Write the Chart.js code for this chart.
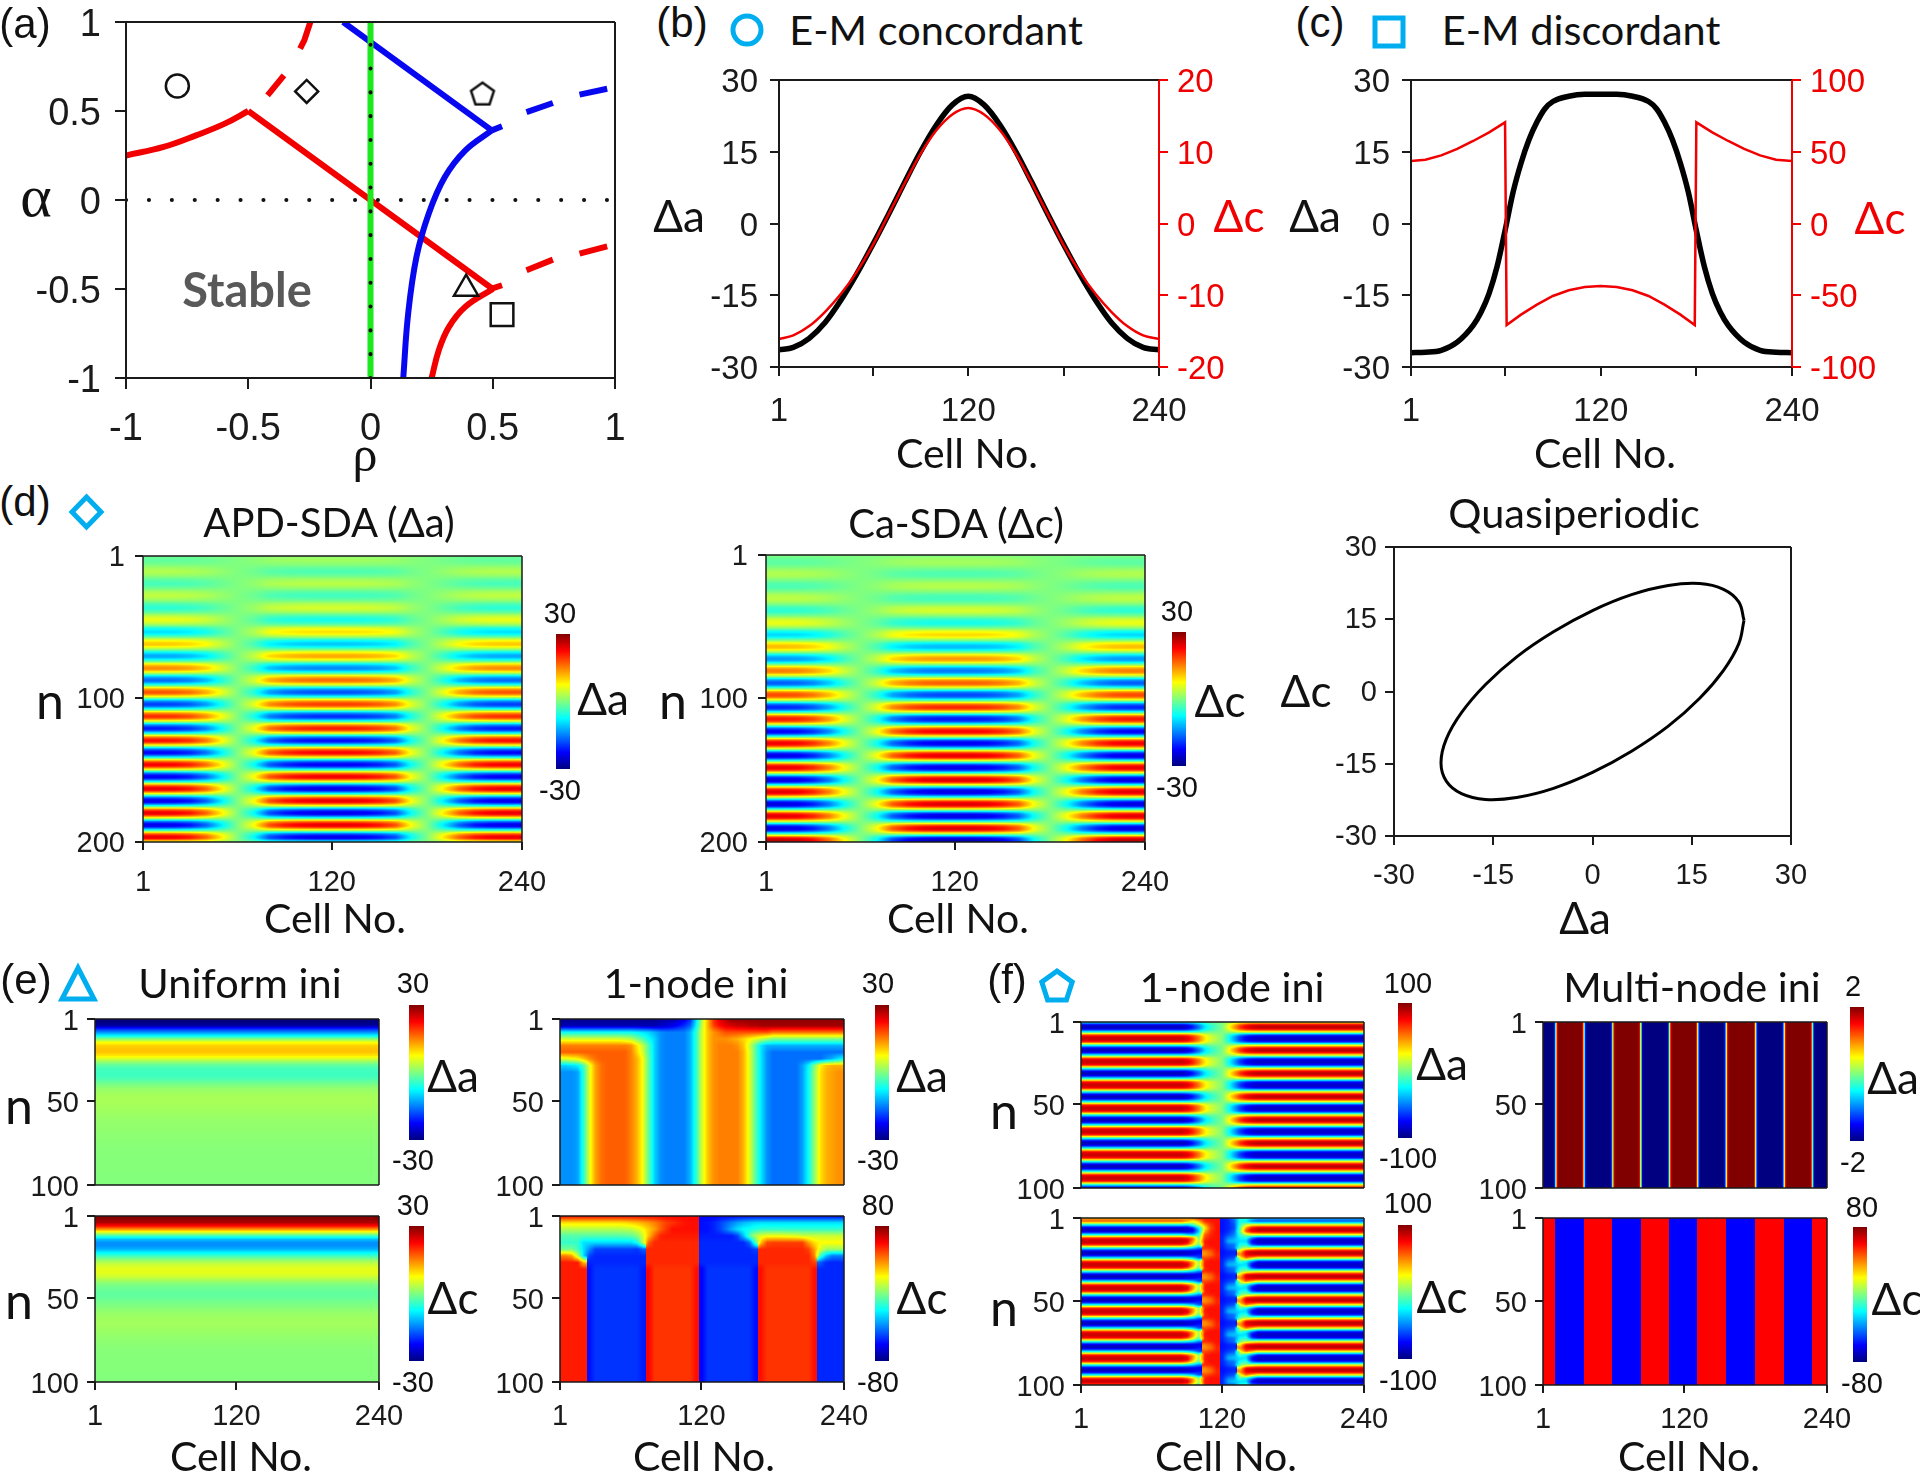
<!doctype html>
<html>
<head>
<meta charset="utf-8">
<title>Spatially discordant alternans</title>
<script src="https://cdn.jsdelivr.net/npm/chart.js@4"></script>
<style>
html, body { margin: 0; background: #fff; }
#fig { position: relative; width: 1920px; height: 1472px; overflow: hidden; }
#fig canvas { position: absolute; }
#fig svg { position: absolute; left: 0; top: 0; }
.t { position: absolute; transform: translate(-50%, -50%); white-space: nowrap; font-family: Lato; color: #111; line-height: 1; }
</style>
</head>
<body>
<div id="fig">
<svg width="1920" height="1472" fill="none" stroke="#00aeef" stroke-width="5">
  <circle cx="747" cy="30" r="14"/>
  <rect x="1375" y="18" width="28" height="28"/>
  <polygon points="86.5,497 101,512 86.5,527 72,512"/>
  <polygon points="78,968 94,999 62,999"/>
  <polygon points="1057,971 1072.2,982 1066.4,1000 1047.6,1000 1041.8,982"/>
</svg>
</div>
<script>
const rep = (v, k) => Array(k).fill(v);

// panel (a) boundaries, [rho, alpha]
const redLeft = [[-1, .25], [-.846, .298], [-.713, .363], [-.596, .429], [-.5, .5]];
const redDiag = [[-.5, .5], [.5, -.5]];
const redLower = [[.5, -.5], [.388, -.6], [.321, -.713], [.279, -.845], [.25, -1]];
const redDashes = [
  [[-.246, 1], [-.27, .9], [-.288, .85]],
  [[-.354, .7], [-.421, .588]],
  [[.496, -.498], [.538, -.479]],
  [[.638, -.395], [.746, -.335]],
  [[.855, -.301], [.968, -.26]],
];
const blueDiag = [[-.112, 1], [.496, .391]];
const blueLower = [[.496, .391], [.388, .279], [.304, .129], [.238, -.077], [.188, -.32], [.154, -.639], [.134, -1]];
const blueDashes = [
  [[.496, .391], [.538, .414]],
  [[.638, .494], [.746, .545]],
  [[.855, .592], [.968, .625]],
];
const greenLine = [[0, -1], [0, 1]];
const zeroLine = [[-1, 0], [1, 0]];
const markers = [[-.79, .64], [-.261, .61], [.458, .592], [.391, -.498], [.538, -.644]];

// panel (b)
const cellsB = [1, 10, 20, 30, 40, 50, 60, 70, 80, 90, 100, 110, 120, 130, 140, 150, 160, 170, 180, 190, 200, 210, 220, 230, 240];
const apdB = [-26.4, -25.9, -24, -20.7, -16, -10.5, -4.4, 2, 8.6, 15, 20.6, 24.8, 26.6, 24.8, 20.6, 15, 8.6, 2, -4.4, -10.5, -16, -20.7, -24, -25.9, -26.4];
const caB = [-16.1, -15.6, -14.3, -12.3, -9.8, -6.7, -3, 1.3, 5.6, 9.7, 13, 15.2, 16.1, 15.2, 13, 9.7, 5.6, 1.3, -3, -6.7, -9.8, -12.3, -14.3, -15.6, -16.1];

// panel (c)
const cellsC = [1, 10, 20, 30, 40, 45, 50, 55, 60, 65, 70, 75, 80, 85, 90, 100, 110, 120, 130, 140, 150, 155, 160, 165, 170, 175, 180, 185, 190, 195, 200, 210, 220, 230, 240];
const apdC = [-27, -26.9, -26.5, -24.8, -21.3, -18.5, -14.6, -9, -1.5, 6.5, 12.6, 17.5, 21.2, 24, 25.5, 26.6, 27, 27, 27, 26.6, 25.5, 24, 21.2, 17.5, 12.6, 6.5, -1.5, -9, -14.6, -18.5, -21.3, -24.8, -26.5, -26.9, -27];
const cellsCaC = [1, 10, 20, 30, 40, 50, 60, 61, 70, 80, 90, 100, 110, 120, 130, 140, 150, 160, 170, 179, 180, 190, 200, 210, 220, 230, 240];
const caC = [43.6, 44.5, 47.5, 52, 57.5, 63.5, 70.5, -70.7, -63.5, -56.5, -50.5, -46.5, -44.2, -43.6, -44.2, -46.5, -50.5, -56.5, -63.5, -70.7, 70.5, 63.5, 57.5, 52, 47.5, 44.5, 43.6];

// panel (d) heat maps: rows top to bottom, columns every 10 cells
const d1Rows = [
  -1, -1.8, -.6, 1.8, 2.9, .8, -2.2, -3.3, -.9, 2.5, 3.6, 1,
  -3.2, -4.9, -1.5, 4.1, 6.2, 1.9, -6.2, -9, -2.6, 7.1, 10.5, 3.1,
  -8.4, -12.4, -3.6, 9.8, 14.2, 4.2, -11.2, -15.9, -4.6, 12.2, 17.4, 4.9,
  -13.2, -18.6, -5.3, 13.9, 19.6, 5.5, -14.6, -20.6, -5.8, 15.3, 21.5, 6,
  -15.8, -22.1, -6.2, 16.1, 22.5, 6.3, -16.5, -22.9, -6.4, 16.8, 23.3, 6.5,
  -16.8, -23.3, -6.5, 16.8, 23.3, 6.5, -16.8, -23.3, -6.5, 16.8, 23.3, 6.5,
];
const d1Cols = [1, 1, .98, .9, .7, .35, 0, -.3, -.75, -.9, -.97, -1, -1, -1, -.97, -.9, -.75, -.3, 0, .35, .7, .9, .98, 1, 1];
const d2Rows = [
  .1, -1.5, -2, -.2, 2.2, 2.7, .4, -2.4, -2.9, -.3, 2.8, 3.4,
  .5, -3.8, -4.7, -.5, 4.8, 6.1, 1, -7.2, -9.2, -1, 9, 10.8,
  1.5, -10.4, -12.9, -1.5, 12.3, 14.4, 2, -13.6, -16.1, -1.8, 15.2, 17.1,
  2.4, -16.4, -19.3, -2.2, 18, 19.8, 2.8, -18.4, -21.6, -2.4, 19.7, 21.6,
  3, -19.6, -22.5, -2.5, 20.1, 22.1, 3, -20, -23, -2.5, 20.5, 22.5,
  3, -20, -23, -2.5, 20.5, 22.5, 3, -20, -23, -2.5, 22, 27,
];
const d2Cols = [1, 1, .97, .85, .62, .28, 0, -.28, -.7, -.88, -.97, -1, -1, -1, -.97, -.88, -.7, -.28, 0, .28, .62, .85, .97, 1, 1];

// panel (d) right, quasiperiodic loop [da, dc]
const loopPts = [
  [22.9, 14.8], [22.1, 9.9], [19.8, 4.4], [16.2, -1.4], [11.45, -7.2], [5.9, -12.4], [0, -16.8], [-5.9, -20.1],
  [-11.45, -22], [-16.2, -22.4], [-19.8, -21.2], [-22.1, -18.6], [-22.9, -14.8], [-22.1, -9.9], [-19.8, -4.4],
  [-16.2, 1.4], [-11.45, 7.2], [-5.9, 12.4], [0, 16.8], [5.9, 20.1], [11.45, 22], [16.2, 22.4], [19.8, 21.2],
  [22.1, 18.6], [22.9, 14.8],
];

// panel (e) uniform ini, every 2nd beat
const e1Rows = [-30, -30, -28, -20, -14, -8, 0, 7, 10, 11, 11, 9, 5, 1, -2, -3.5, -3.8, -3.8, -3, -1.5, 0, 1.2, 1.8, 2.2, 2.4, 2.4, 2.2, 2, 1.8, 1.6, 1.4, 1.2, 1.1, 1, .9, .8, .7, .6, .5, .5, .4, .4, .3, .3, .3, .3, .3, .2, .2, .2, .2];
const e3Rows = [30, 29, 27, 22, 14, 5, -4, -11, -14, -14, -12, -8, -4, 0, 3, 5, 6, 6, 5, 3, 1, -.5, -1.2, -1.8, -1.8, -1.3, -.6, 0, .6, 1.2, 1.6, 1.9, 2, 2, 1.7, 1.5, 1.2, 1, .8, .6, .5, .4, .4, .3, .3, .3, .3, .3, .2, .2, .2];

// panel (e) 1-node ini, every 4th beat, columns every 5 cells
const e2Steady = [-14, -14, -14, -13, -5, 6, 13, 16, 17, 17, 17, 17, 15, 12, 7, -2, -10, -14, -15, -15, -15, -15, -12, -5, 5, 11, 14, 15, 15, 15, 15, 12, 6, -2, -9, -14, -16, -16, -16, -16, -16, -13, -7, 1, 9, 12, 13, 14, 14];
const e2Top = [
  [...rep(-29, 17), -28, -28, -27, -26, -24, -20, -10, 3, 12, 20, 24, 27, ...rep(29, 20)],
  [...rep(-27, 17), -26, -25, -24, -22, -20, -17, -8, 4, 12, 19, 22, 24, 25, 26, 26, 27, 27, ...rep(28, 15)],
  [...rep(-7, 13), -8, -9, -10, -12, -14, -15, -15, -15, -15, -12, -5, 5, 11, 14, 16, ...rep(18, 8), ...rep(16, 13)],
  [...rep(5, 11), 4, 3, 0, -3, -7, -10, -14, -15, -15, -15, -15, -12, -5, 5, 11, 14, 14, 14, 13, 12, 10, 8, 6, 4, 2, ...rep(0, 13)],
  [...rep(15, 12), 14, 9, 4, -3, -10, -14, -15, -15, -15, -15, -12, -5, 5, 11, 14, 15, 15, 15, 14, 11, 5, -2, -9, -12, ...rep(-12, 13)],
  [...rep(17, 12), 15, 10, 5, -3, -10, -14, -15, -15, -15, -15, -12, -5, 5, 11, 14, 15, 15, 15, 15, 12, 6, -2, -9, -14, ...rep(-16, 13)],
  [5, 6, 7, 8, 11, 14, 16, 17, 17, 17, 17, 17, 15, 12, 7, -2, -10, -14, -15, -15, -15, -15, -12, -5, 5, 11, 14, 15, 15, 15, 15, 12, 6, -2, -9, -14, ...rep(-16, 9), -14, -12, -9, -7],
  [-10, -10, -9, -8, -3, 6, 13, 16, 17, 17, 17, 17, 15, 12, 7, -2, -10, -14, -15, -15, -15, -15, -12, -5, 5, 11, 14, 15, 15, 15, 15, 12, 6, -2, -9, -14, ...rep(-16, 5), -13, -8, 0, 8, 11, 12, 12, 12],
];
const e4Steady = [...rep(56, 5), -58, ...rep(-52, 8), -56, 60, ...rep(52, 7), 58, -60, ...rep(-52, 8), -58, 58, ...rep(52, 8), 58, ...rep(-54, 5)];
const e4Top = [
  [...rep(60, 24), ...rep(-60, 25)],
  [...rep(25, 11), 26, 28, 30, 33, 36, 40, 45, 50, 52, 55, 57, 58, 58, -58, -57, -55, -50, -45, -40, -35, -31, -28, -26, ...rep(-25, 15)],
  [...rep(8, 11), 9, 10, 14, 20, 28, 35, 45, 52, 58, 58, 58, 58, 58, -58, -58, -55, -50, -42, -33, -25, -20, -18, -15, ...rep(-12, 15)],
  [...rep(-7, 11), -6, -5, 0, 12, 30, 45, 55, ...rep(56, 6), ...rep(-56, 6), -50, -30, -8, 8, 15, 18, 18, 18, 17, 16, 15, ...rep(12, 8)],
  [...rep(-12, 4), ...rep(-25, 9), -18, 8, 45, ...rep(54, 8), ...rep(-54, 8), -45, -10, 30, 48, ...rep(50, 6), 35, 25, ...rep(20, 5)],
  [-2, -2, -2, -10, -25, -38, ...rep(-50, 7), -52, -45, ...rep(54, 9), ...rep(-54, 9), -50, ...rep(54, 8), 50, 35, 15, ...rep(5, 4)],
  [40, 40, 35, 10, -25, -50, ...rep(-54, 9), ...rep(54, 9), ...rep(-54, 10), ...rep(54, 9), 40, -10, -30, -40, -40, -40],
  [56, 56, 56, 56, 30, -55, ...rep(-54, 9), ...rep(54, 9), ...rep(-54, 10), ...rep(54, 9), 50, -45, ...rep(-54, 4)],
];

// panel (f) 1-node ini
const f1Rows = [-30, -80, -80, -20, 65, 85, 65,
  -20, -80, -80, -20, 65, 85, 65, -20, -80, -80, -20, 65, 85, 65, -20, -80, -80, -20, 65, 85, 65,
  -20, -80, -80, -20, 65, 85, 65, -20, -80, -80, -20, 65, 85, 65, -20, -80, -80, -20, 65, 85, 65,
  -20, -80];
const f1Cols = [...rep(1, 18), .95, .8, .6, .35, .2, .1, 0, -.25, -.5, -.75, -.9, -.97, ...rep(-1, 19)];
const f3Left = [40, 50, -20, -80, -80, -20, 65,
  85, 65, -20, -80, -80, -20, 65, 85, 65, -20, -80, -80, -20, 65, 85, 65, -20, -80, -80, -20, 65,
  85, 65, -20, -80, -80, -20, 65, 85, 65, -20, -80, -80, -20, 65, 85, 65, -20, -80, -80, -20, 65,
  85, 60];
const f3Right = [-40, -50, 20, 80, 80, 20, -65,
  -85, -65, 20, 80, 80, 20, -65, -85, -65, 20, 80, 80, 20, -65, -85, -65, 20, 80, 80, 20, -65,
  -85, -65, 20, 80, 80, 20, -65, -85, -65, 20, 80, 80, 20, -65, -85, -65, 20, 80, 80, 20, -65,
  -85, -60];
// junction columns 90..145 of the same beats
const f3MidTop = [
  [40, 55, 68, 70, 72, 72, -72, -65, -50, -20, -15, -30],
  [40, 25, 40, 65, 70, 72, -72, -68, -55, -20, -25, -45],
  [-25, -10, 15, 45, 65, 72, -72, -68, -58, -15, 10, 20],
  [-78, -65, -25, 30, 62, 72, -72, -68, -60, -8, 45, 72],
  [-78, -72, -35, 40, 65, 72, -72, -66, -55, -5, 55, 75],
  [-30, -35, -15, 55, 68, 72, -70, -60, -50, -15, 10, 20],
  [60, 45, 0, 62, 70, 72, -68, -50, -42, -25, -20, -50],
];
const f3MidBeat = [
  [80, 45, 5, 70, 72, 72, -68, -42, -38, -30, -30, -72],
  [55, 25, -10, 68, 72, 72, -68, -55, -50, -20, -15, -55],
  [-25, -35, -50, 65, 68, 72, -70, -60, -55, 0, 10, 15],
  [-78, -78, -78, 50, 58, 70, -72, -68, -66, 30, 72, 78],
  [-78, -75, -70, 48, 55, 68, -72, -68, -66, 45, 75, 80],
  [-25, -35, -55, 60, 65, 70, -70, -62, -58, 20, 50, 35],
  [55, 35, 0, 68, 72, 72, -68, -50, -45, -10, -20, -45],
];
const f3Mid = [...f3MidTop, ...f3MidBeat, ...f3MidBeat, ...f3MidBeat, ...f3MidBeat, ...f3MidBeat, ...f3MidBeat, f3MidBeat[0], f3MidBeat[1]];

// panel (f) multi-node ini, cells where the sign flips
const f2Edges = [11, 35, 59, 83, 107, 131, 155, 180, 204, 228];
const f2Ramp = [-1.2, .4, 1.6];

const fig = document.getElementById('fig');
const ink = '#1a1a1a';
const tickFont = 'Liberation Sans';

Chart.defaults.animation = false;
Chart.defaults.responsive = false;
Chart.defaults.devicePixelRatio = 1;
Chart.defaults.events = [];
Chart.defaults.plugins.legend.display = false;
Chart.defaults.plugins.tooltip.enabled = false;

const xy = pts => pts.map(([x, y]) => ({ x, y }));
const zipXY = (xs, ys) => xs.map((x, i) => ({ x, y: ys[i] }));

function place(box, m) {
  const c = document.createElement('canvas');
  const w = box[2] - box[0] + m.l + m.r, h = box[3] - box[1] + m.t + m.b;
  c.width = w; c.height = h;
  c.style.left = (box[0] - m.l) + 'px';
  c.style.top = (box[1] - m.t) + 'px';
  fig.appendChild(c);
  return c;
}

// holds the plot area on the exact box, whatever auto padding wants
const pin = m => ({
  id: 'pin',
  afterLayout(chart) {
    const a = chart.chartArea;
    a.left = m.l; a.top = m.t; a.right = chart.width - m.r; a.bottom = chart.height - m.b;
    a.width = a.right - a.left; a.height = a.bottom - a.top;
    Object.values(chart.scales).forEach(s => {
      if (s.isHorizontal()) {
        s.left = a.left; s.right = a.right; s.width = a.width; s.top = a.bottom; s.bottom = chart.height; s.height = m.b;
      } else {
        s.top = a.top; s.bottom = a.bottom; s.height = a.height;
        if (s.position === 'right') { s.left = a.right; s.right = chart.width; s.width = m.r; }
        else { s.left = 0; s.right = a.left; s.width = m.l; }
      }
      s.configure();
    });
  },
});

function axis(o) {
  return {
    type: 'linear', position: o.pos, min: o.min, max: o.max, reverse: !!o.reverse,
    afterBuildTicks: s => { s.ticks = o.ticks.map(v => ({ value: v })); },
    afterFit: s => { if (s.isHorizontal()) s.height = o.fit; else s.width = o.fit; },
    grid: { drawOnChartArea: false, drawTicks: true, tickLength: o.tick, color: o.color || ink, lineWidth: 2 },
    border: { display: false },
    ticks: {
      autoSkip: false, maxRotation: 0, minRotation: 0, padding: o.pad, color: o.color || ink, labelOffset: o.off || 0,
      font: { family: tickFont, size: o.size },
      callback: v => (o.labels || o.ticks).includes(v) ? String(v) : '',
    },
  };
}

// outline of the plot area, right side may take the axis colour
const frame = (right = ink, width = 2) => ({
  id: 'frame',
  afterDatasetsDraw(chart) {
    const { left, right: r, top, bottom } = chart.chartArea, ctx = chart.ctx;
    ctx.save();
    ctx.lineWidth = width;
    ctx.strokeStyle = ink;
    ctx.beginPath();
    ctx.moveTo(r, top); ctx.lineTo(left, top); ctx.lineTo(left, bottom); ctx.lineTo(r, bottom);
    ctx.stroke();
    ctx.strokeStyle = right;
    ctx.beginPath();
    ctx.moveTo(r, top); ctx.lineTo(r, bottom);
    ctx.stroke();
    ctx.restore();
  },
});

function jet(v, vmax) {
  const t = Math.min(1, Math.max(0, (v + vmax) / (2 * vmax)));
  const f = k => Math.round(255 * Math.min(1, Math.max(0, 1.5 - Math.abs(4 * t - k))));
  return [f(3), f(2), f(1)];
}

// paints the dataset's cells into the plot, placed by the chart's own scales
const heatCells = {
  id: 'heatCells',
  beforeDatasetsDraw(chart) {
    const ds = chart.data.datasets[0], pts = ds.data, nx = ds.nx, ny = pts.length / nx;
    const sx = chart.scales.x, sy = chart.scales.y, ctx = chart.ctx;
    const x0 = Math.round(sx.getPixelForValue(pts[0].x)), x1 = Math.round(sx.getPixelForValue(pts[nx - 1].x));
    const y0 = Math.round(sy.getPixelForValue(pts[0].y)), y1 = Math.round(sy.getPixelForValue(pts[pts.length - 1].y));
    const w = x1 - x0, h = y1 - y0, img = ctx.createImageData(w, h);
    const across = (a, b, f) => Math.abs(a - b) > ds.jump ? (f < .5 ? a : b) : a + (b - a) * f;
    const at = (r, c, fx) => {
      const row = Math.min(ny - 1, Math.max(0, r));
      return across(pts[row * nx + c].v, pts[row * nx + c + 1].v, fx);
    };
    for (let py = 0; py < h; py++) {
      const gy = (py + .5) / h * (ny - 1), r = Math.min(ny - 2, Math.floor(gy)), fy = gy - r;
      for (let px = 0; px < w; px++) {
        const gx = (px + .5) / w * (nx - 1), c = Math.min(nx - 2, Math.floor(gx)), fx = gx - c;
        const p1 = at(r, c, fx), p2 = at(r + 1, c, fx);
        let v = p1 + (p2 - p1) * fy;
        if (ds.smooth) {
          // rounder stripes between the read rows
          const p0 = at(r - 1, c, fx), p3 = at(r + 2, c, fx);
          v = p1 + .5 * fy * (p2 - p0 + fy * (2 * p0 - 5 * p1 + 4 * p2 - p3 + fy * (3 * (p1 - p2) + p3 - p0)));
        }
        const rgb = jet(v, ds.vmax), i = (py * w + px) * 4;
        img.data[i] = rgb[0]; img.data[i + 1] = rgb[1]; img.data[i + 2] = rgb[2]; img.data[i + 3] = 255;
      }
    }
    ctx.putImageData(img, x0, y0);
  },
};

function heat(box, grid, vmax, o = {}) {
  const nx = grid[0].length, ny = grid.length, yMax = o.yMax || 100;
  const data = [];
  grid.forEach((row, r) => row.forEach((v, c) => data.push({ x: 1 + c * 239 / (nx - 1), y: 1 + r * (yMax - 1) / (ny - 1), v })));
  const m = o.bar ? { l: 0, r: 0, t: 0, b: 0 } : { l: 110, r: 40, t: 22, b: o.xAxis ? 70 : 22 };
  const scales = {
    x: o.xAxis ? axis({ pos: 'bottom', min: 1, max: 240, ticks: [1, 120, 240], tick: 8, pad: o.xPad || 10, size: 29, fit: m.b })
      : { type: 'linear', min: 1, max: 240, display: false },
    y: o.bar ? { type: 'linear', min: 1, max: yMax, reverse: true, display: false }
      : axis({ pos: 'left', min: 1, max: yMax, reverse: true, ticks: [1, Math.round(yMax / 2), yMax], tick: 8, pad: o.yPad || 8, size: 29, fit: m.l, off: o.off === undefined ? 3 : o.off }),
  };
  new Chart(place(box, m), {
    type: 'scatter',
    data: { datasets: [{ data, nx, vmax, jump: o.jump || Infinity, smooth: !!o.smooth, pointRadius: 0, showLine: false }] },
    options: { layout: { padding: { top: m.t, right: m.r, bottom: o.xAxis ? 0 : m.b } }, scales },
    plugins: o.bar ? [pin(m), heatCells] : [pin(m), heatCells, frame(ink, 1.5)],
  });
}
const colorBar = (box, vmax) => heat(box, [[vmax, vmax], [-vmax, -vmax]], vmax, { bar: true });
const uniformRows = rows => rows.map(v => [v, v]);
const outer = (rows, cols) => rows.map(v => cols.map(k => v * k));

// ---- panel a
const penta = document.createElement('canvas');
penta.width = penta.height = 30;
{
  const p = penta.getContext('2d');
  p.strokeStyle = '#111'; p.lineWidth = 2.5; p.beginPath();
  for (let i = 0; i < 5; i++) {
    const t = -Math.PI / 2 + i * 2 * Math.PI / 5;
    p.lineTo(15 + 12 * Math.cos(t), 15 + 12 * Math.sin(t));
  }
  p.closePath(); p.stroke();
}
const seg = (pts, color, width) => ({ data: xy(pts), showLine: true, borderColor: color, borderWidth: width, pointRadius: 0, tension: 0, borderCapStyle: 'butt', borderJoinStyle: 'round' });
const mA = { l: 110, r: 30, t: 24, b: 70 };
new Chart(place([126, 22, 615, 378], mA), {
  type: 'scatter',
  data: {
    datasets: [
      { data: xy(markers), showLine: false, pointStyle: ['circle', 'rectRot', penta, 'triangle', 'rect'], pointRadius: [11.5, 11.5, 15, 14, 16], pointBackgroundColor: 'rgba(0,0,0,0)', pointBorderColor: '#111', pointBorderWidth: 2.5 },
      { ...seg(greenLine, '#111', 4), borderDash: [.1, 23.7], borderCapStyle: 'round' },
      { ...seg(zeroLine, '#111', 4), borderDash: [.1, 22.8], borderCapStyle: 'round' },
      seg(greenLine, '#1ee81e', 6),
      seg(blueDiag, '#0808f0', 6),
      { ...seg(blueLower, '#0808f0', 6), tension: .4 },
      ...blueDashes.map(d => seg(d, '#0808f0', 6)),
      seg(redDiag, '#f20000', 6),
      { ...seg(redLeft, '#f20000', 6), tension: .4 },
      { ...seg(redLower, '#f20000', 6), tension: .4 },
      ...redDashes.map(d => seg(d, '#f20000', 6)),
    ],
  },
  options: {
    layout: { padding: { top: mA.t, right: mA.r } },
    scales: {
      x: axis({ pos: 'bottom', min: -1, max: 1, ticks: [-1, -.5, 0, .5, 1], tick: 11, pad: 18, size: 38, fit: mA.b }),
      y: axis({ pos: 'left', min: -1, max: 1, ticks: [-1, -.5, 0, .5, 1], tick: 11, pad: 14, size: 38, fit: mA.l, off: 4 }),
    },
  },
  plugins: [pin(mA), frame()],
});

// ---- panels b, c
function profile(box, sets, rightMax, rightTicks, xTicks) {
  const m = { l: 110, r: 100, t: 22, b: 70 };
  new Chart(place(box, m), {
    type: 'scatter',
    data: { datasets: sets },
    options: {
      layout: { padding: { top: m.t } },
      scales: {
        x: axis({ pos: 'bottom', min: 1, max: 240, ticks: xTicks, labels: [1, 120, 240], tick: 9, pad: 16, size: 33, fit: m.b }),
        y: axis({ pos: 'left', min: -30, max: 30, ticks: [-30, -15, 0, 15, 30], tick: 9, pad: 12, size: 33, fit: m.l, off: 3 }),
        y1: axis({ pos: 'right', min: -rightMax, max: rightMax, ticks: rightTicks, tick: 9, pad: 9, size: 33, fit: m.r, color: '#f00000', off: 3 }),
      },
    },
    plugins: [pin(m), frame('#f00000')],
  });
}
profile([779, 80, 1159, 367], [
  { data: zipXY(cellsB, caB), yAxisID: 'y1', showLine: true, borderColor: '#f00000', borderWidth: 2.5, pointRadius: 0, cubicInterpolationMode: 'monotone' },
  { data: zipXY(cellsB, apdB), showLine: true, borderColor: '#000', borderWidth: 5.5, pointRadius: 0, cubicInterpolationMode: 'monotone' },
], 20, [-20, -10, 0, 10, 20], [1, 60, 120, 180, 240]);
profile([1411, 80, 1792, 367], [
  { data: zipXY(cellsCaC, caC), yAxisID: 'y1', showLine: true, borderColor: '#f00000', borderWidth: 2.5, pointRadius: 0, tension: 0 },
  { data: zipXY(cellsC, apdC), showLine: true, borderColor: '#000', borderWidth: 5.5, pointRadius: 0, cubicInterpolationMode: 'monotone' },
], 100, [-100, -50, 0, 50, 100], [1, 60, 120, 180, 240]);

// ---- panel d
heat([143, 556, 522, 842], outer(d1Rows, d1Cols), 30, { yMax: 200, xAxis: true, yPad: 10, xPad: 16, off: 2, smooth: true });
colorBar([556, 634, 570, 769], 30);
heat([766, 555, 1145, 842], outer(d2Rows, d2Cols), 30, { yMax: 200, xAxis: true, yPad: 10, xPad: 16, off: 2, smooth: true });
colorBar([1172, 632, 1186, 766], 30);

const mL = { l: 110, r: 40, t: 22, b: 70 };
new Chart(place([1394, 547, 1791, 836], mL), {
  type: 'scatter',
  data: { datasets: [{ data: xy(loopPts), showLine: true, borderColor: '#000', borderWidth: 3, pointRadius: 0, tension: .4 }] },
  options: {
    layout: { padding: { top: mL.t, right: mL.r } },
    scales: {
      x: axis({ pos: 'bottom', min: -30, max: 30, ticks: [-30, -15, 0, 15, 30], tick: 9, pad: 14, size: 29, fit: mL.b }),
      y: axis({ pos: 'left', min: -30, max: 30, ticks: [-30, -15, 0, 15, 30], tick: 9, pad: 8, size: 29, fit: mL.l, off: 1 }),
    },
  },
  plugins: [pin(mL), frame()],
});

// ---- panel e
const e2Grid = [...e2Top, ...rep(e2Steady, 18)];
const e4Grid = [...e4Top, ...rep(e4Steady, 18)];
heat([95, 1019, 379, 1185], uniformRows(e1Rows), 30);
colorBar([409, 1005, 424, 1140], 30);
heat([95, 1216, 379, 1382], uniformRows(e3Rows), 30, { xAxis: true });
colorBar([409, 1226, 424, 1361], 30);
heat([560, 1019, 844, 1185], e2Grid, 30);
colorBar([875, 1005, 889, 1140], 30);
heat([560, 1216, 844, 1382], e4Grid, 80, { xAxis: true, jump: 70 });
colorBar([875, 1226, 889, 1361], 80);

// ---- panel f
const f3Grid = f3Left.map((l, i) => [...rep(l, 18), ...f3Mid[i], ...rep(f3Right[i], 19)]);
const f2Band = c => f2Edges.filter(e => e <= c).length % 2;
const f2Steps = Array.from({ length: 241 }, (_, i) => i);
// multi-node ini: flat bands with a three cell wall at each edge
const f2Cols = f2Steps.map(c => {
  const s = f2Band(c) ? 2 : -2;
  const wall = f2Edges.findIndex(e => c >= e - 1 && c <= e + 1);
  if (wall < 0) return s;
  const e = f2Edges[wall], up = wall % 2 === 0 ? 1 : -1;
  return up * f2Ramp[c - e + 1];
});
const f4Cols = f2Steps.map(c => f2Band(c) ? -60 : 60);
heat([1081, 1022, 1364, 1188], outer(f1Rows, f1Cols), 100, { smooth: true });
colorBar([1398, 1003, 1412, 1138], 100);
heat([1081, 1218, 1364, 1385], f3Grid, 100, { xAxis: true, jump: 95, smooth: true });
colorBar([1398, 1225, 1412, 1359], 100);
heat([1543, 1022, 1827, 1188], [f2Cols, f2Cols], 2);
colorBar([1850, 1007, 1864, 1141], 2);
heat([1543, 1218, 1827, 1385], [f4Cols, f4Cols], 80, { xAxis: true, jump: 70 });
colorBar([1853, 1227, 1867, 1362], 80);

// ---- text
function txt(s, x, y, size, o = {}) {
  const d = document.createElement('div');
  d.className = 't';
  d.textContent = s;
  d.style.left = x + 'px';
  d.style.top = y + 'px';
  d.style.fontSize = size + 'px';
  if (o.family) d.style.fontFamily = o.family;
  if (o.color) d.style.color = o.color;
  if (o.weight) d.style.fontWeight = o.weight;
  fig.appendChild(d);
}
const red = { color: '#f00000' };
const tickTxt = { family: tickFont };

[['(a)', 25, 24], ['(b)', 682, 23], ['(c)', 1320, 23], ['(d)', 25, 502], ['(e)', 26, 980], ['(f)', 1007, 980]]
  .forEach(([s, x, y]) => txt(s, x, y, 42, tickTxt));

txt('α', 36, 196, 60, { family: 'Liberation Serif' });
txt('ρ', 365, 454, 50, { family: 'Liberation Serif' });
txt('Stable', 247, 289, 47, { weight: 700, color: '#595959' });

const titles = [['E-M concordant', 936, 30, 41.5], ['E-M discordant', 1581, 30, 41.5], ['APD-SDA (Δa)', 329, 522, 40], ['Ca-SDA (Δc)', 956, 523, 40],
  ['Quasiperiodic', 1574, 513, 41.5], ['Uniform ini', 240, 983, 41.5], ['1-node ini', 696, 983, 41.5], ['1-node ini', 1232, 987, 41.5], ['Multi-node ini', 1692, 987, 41.5]];
titles.forEach(([s, x, y, size]) => txt(s, x, y, size));

[[967, 452], [1605, 452], [335, 917], [958, 917], [241, 1455], [704, 1455], [1226, 1455], [1689, 1455]]
  .forEach(([x, y]) => txt('Cell No.', x, y, 41));

[[50, 700], [673, 700], [19, 1105], [19, 1300], [1004, 1110], [1004, 1307]]
  .forEach(([x, y]) => txt('n', x, y, 50));

txt('Δa', 679, 215, 44);
txt('Δc', 1239, 215, 44, red);
txt('Δa', 1315, 215, 44);
txt('Δc', 1880, 217, 44, red);
txt('Δa', 603, 698, 44);
txt('Δc', 1220, 700, 44);
txt('Δc', 1306, 690, 44);
txt('Δa', 1585, 917, 44);
txt('Δa', 453, 1075, 44);
txt('Δc', 453, 1297, 44);
txt('Δa', 922, 1075, 44);
txt('Δc', 922, 1297, 44);
txt('Δa', 1442, 1063, 44);
txt('Δc', 1442, 1296, 44);
txt('Δa', 1893, 1077, 44);
txt('Δc', 1897, 1298, 44);

[['30', 560, 613], ['-30', 560, 790], ['30', 1177, 611], ['-30', 1177, 787],
 ['30', 413, 983], ['-30', 413, 1160], ['30', 413, 1205], ['-30', 413, 1382],
 ['30', 878, 983], ['-30', 878, 1160], ['80', 878, 1205], ['-80', 878, 1382],
 ['100', 1408, 983], ['-100', 1408, 1158], ['100', 1408, 1203], ['-100', 1408, 1380],
 ['2', 1853, 986], ['-2', 1853, 1162], ['80', 1862, 1207], ['-80', 1862, 1383]]
  .forEach(([s, x, y]) => txt(s, x, y, 29, tickTxt));
</script>
</body>
</html>
